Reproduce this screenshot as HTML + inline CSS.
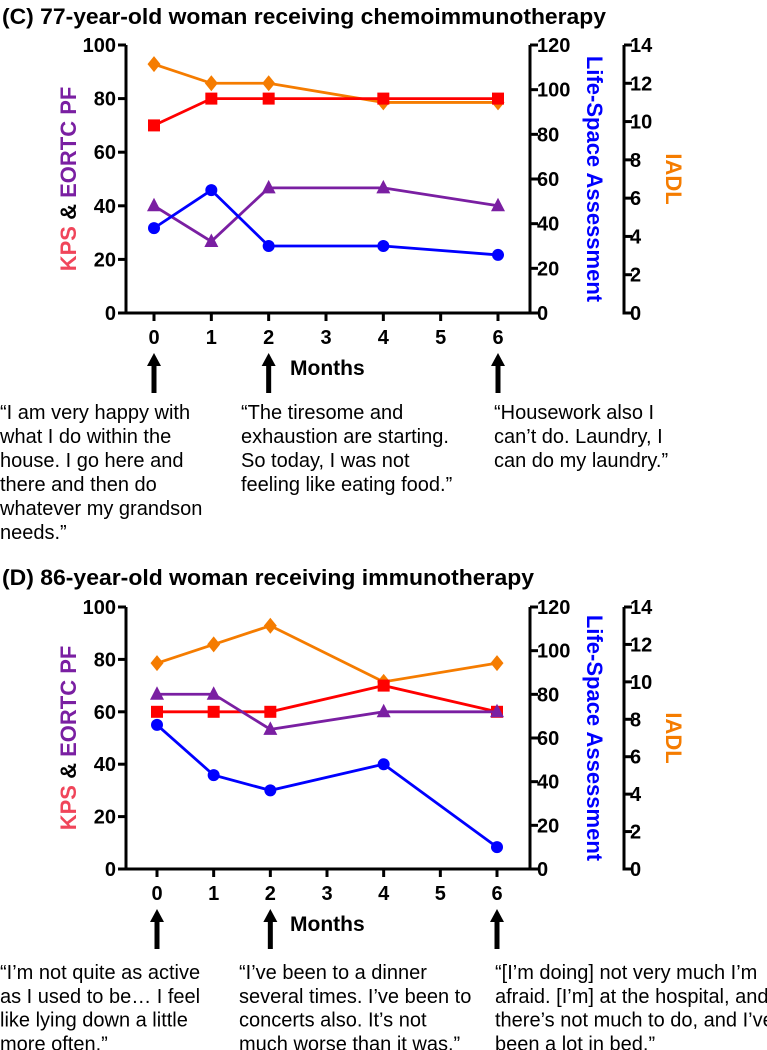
<!DOCTYPE html>
<html><head><meta charset="utf-8"><style>
html,body{margin:0;padding:0;background:#fff;}
svg{display:block;font-family:"Liberation Sans",Arial,sans-serif;}
</style></head><body>
<svg id="fig" width="767" height="1050" viewBox="0 0 767 1050">
<text x="2" y="24" font-size="22" font-weight="bold" textLength="604" lengthAdjust="spacingAndGlyphs">(C) 77-year-old woman receiving chemoimmunotherapy</text>
<text x="2" y="585" font-size="22" font-weight="bold" textLength="532" lengthAdjust="spacingAndGlyphs">(D) 86-year-old woman receiving immunotherapy</text>
<g font-size="20" fill="#000">
<text x="0" y="419"><tspan x="0">“I am very happy with</tspan><tspan x="0" dy="24">what I do within the</tspan><tspan x="0" dy="24">house. I go here and</tspan><tspan x="0" dy="24">there and then do</tspan><tspan x="0" dy="24">whatever my grandson</tspan><tspan x="0" dy="24">needs.”</tspan></text>
<text x="241" y="419"><tspan x="241">“The tiresome and</tspan><tspan x="241" dy="24">exhaustion are starting.</tspan><tspan x="241" dy="24">So today, I was not</tspan><tspan x="241" dy="24">feeling like eating food.”</tspan></text>
<text x="494" y="419"><tspan x="494">“Housework also I</tspan><tspan x="494" dy="24">can’t do. Laundry, I</tspan><tspan x="494" dy="24">can do my laundry.”</tspan></text>
</g>
<g font-size="20" fill="#000">
<text x="0" y="979"><tspan x="0">“I’m not quite as active</tspan><tspan x="0" dy="23.8">as I used to be… I feel</tspan><tspan x="0" dy="23.8">like lying down a little</tspan><tspan x="0" dy="23.8">more often.”</tspan></text>
<text x="239" y="979"><tspan x="239">“I’ve been to a dinner</tspan><tspan x="239" dy="23.8">several times. I’ve been to</tspan><tspan x="239" dy="23.8">concerts also. It’s not</tspan><tspan x="239" dy="23.8">much worse than it was.”</tspan></text>
<text x="495" y="979"><tspan x="495">“[I’m doing] not very much I’m</tspan><tspan x="495" dy="23.8">afraid. [I’m] at the hospital, and</tspan><tspan x="495" dy="23.8">there’s not much to do, and I’ve</tspan><tspan x="495" dy="23.8">been a lot in bed.”</tspan></text>
</g>
</svg>
<script>
const months = [0, 1, 2, 4, 6];
const xTicks = [0, 1, 2, 3, 4, 5, 6];
const leftTicks = [0, 20, 40, 60, 80, 100];
const lsTicks = [0, 20, 40, 60, 80, 100, 120];
const iadlTicks = [0, 2, 4, 6, 8, 10, 12, 14];
const arrowMonths = [0, 2, 6];
const kpsC = [70, 80, 80, 80, 80];
const pfC = [40, 26.7, 46.7, 46.7, 40];
const lsC = [38, 55, 30, 30, 26];
const iadlC = [13, 12, 12, 11, 11];
const kpsD = [60, 60, 60, 70, 60];
const pfD = [66.7, 66.7, 53.3, 60, 60];
const lsD = [66, 43, 36, 48, 10];
const iadlD = [11, 12, 13, 10, 11];

const NS = 'http://www.w3.org/2000/svg';
const svg = document.getElementById('fig');
function mk(tag, attrs, parent) {
  const e = document.createElementNS(NS, tag);
  for (const k in attrs) e.setAttribute(k, attrs[k]);
  (parent || svg).appendChild(e);
  return e;
}
const RED = '#ff0000', PURPLE = '#7a1fa2', BLUE = '#0000ff', ORANGE = '#f57c00';

function panel(p, top, bottom, x0m, x6m, kps, pf, ls, iadl) {
  const axL = 126, axR = 530, axI = 624;
  const yL = v => bottom - (v / 100) * (bottom - top);
  const yLS = v => bottom - (v / 120) * (bottom - top);
  const yI = v => bottom - (v / 14) * (bottom - top);
  const xM = m => x0m + (m / 6) * (x6m - x0m);
  const g = mk('g', {});
  
  
  const ax = {stroke: '#000', 'stroke-width': 3, fill: 'none'};
  const la = mk('line', Object.assign({x1: axL, y1: top, x2: axL, y2: bottom + 1.5}, ax), g);
  
  
  leftTicks.forEach(v => {
    mk('line', Object.assign({x1: axL - 8, y1: yL(v), x2: axL, y2: yL(v)}, ax), g);
    const t = mk('text', {x: 116, y: yL(v) + 7, 'font-size': 20, 'font-weight': 'bold', 'text-anchor': 'end'}, g);
    t.textContent = v;
    
    
  });
  const xa = mk('line', Object.assign({x1: axL - 1.5, y1: bottom, x2: axR + 3, y2: bottom}, ax), g);
  
  
  xTicks.forEach(m => {
    mk('line', Object.assign({x1: xM(m), y1: bottom, x2: xM(m), y2: bottom + 8}, ax), g);
    const t = mk('text', {x: xM(m), y: bottom + 31, 'font-size': 20, 'font-weight': 'bold', 'text-anchor': 'middle'}, g);
    t.textContent = m;
    
    
  });
  const ra = mk('line', Object.assign({x1: axR, y1: top, x2: axR, y2: bottom + 1.5}, ax), g);
  
  
  lsTicks.forEach(v => {
    mk('line', Object.assign({x1: axR, y1: yLS(v), x2: axR + 8, y2: yLS(v)}, ax), g);
    const t = mk('text', {x: 537, y: yLS(v) + 7, 'font-size': 20, 'font-weight': 'bold'}, g);
    t.textContent = v;
    
    
  });
  const ia = mk('line', Object.assign({x1: axI, y1: top, x2: axI, y2: bottom + 1.5}, ax), g);
  
  
  iadlTicks.forEach(v => {
    mk('line', Object.assign({x1: axI, y1: yI(v), x2: axI + 8, y2: yI(v)}, ax), g);
    const t = mk('text', {x: 630, y: yI(v) + 7, 'font-size': 20, 'font-weight': 'bold'}, g);
    t.textContent = v;
    
    
  });
  const mid = (top + bottom) / 2;
  const lt = mk('text', {x: 0, y: 0, 'font-size': 22, 'font-weight': 'bold', 'text-anchor': 'middle', transform: `translate(76,${mid}) rotate(-90)`}, g);
  lt.innerHTML = '<tspan fill="#f0455a">KPS</tspan><tspan fill="#000"> &amp; </tspan><tspan fill="' + PURPLE + '">EORTC PF</tspan>';
  
  
  const rt = mk('text', {x: 0, y: 0, 'font-size': 22, 'font-weight': 'bold', 'text-anchor': 'middle', fill: BLUE, transform: `translate(587,${mid}) rotate(90)`}, g);
  rt.textContent = 'Life-Space Assessment';
  
  
  const it = mk('text', {x: 0, y: 0, 'font-size': 22, 'font-weight': 'bold', 'text-anchor': 'middle', fill: ORANGE, transform: `translate(666,${mid}) rotate(90)`}, g);
  it.textContent = 'IADL';
  
  
  function series(vals, yf, color, marker, name) {
    const pts = vals.map((v, i) => [xM(months[i]), yf(v)]);
    const pl = mk('polyline', {points: pts.map(q => q.join(',')).join(' '), fill: 'none', stroke: color, 'stroke-width': 2.8}, g);
    
    
    pts.forEach(([x, y]) => {
      let m;
      if (marker === 'square') m = mk('rect', {x: x - 6, y: y - 6, width: 12, height: 12, fill: color}, g);
      else if (marker === 'circle') m = mk('circle', {cx: x, cy: y, r: 6, fill: color}, g);
      else if (marker === 'triangle') m = mk('polygon', {points: `${x},${y - 8} ${x + 7},${y + 5.5} ${x - 7},${y + 5.5}`, fill: color}, g);
      else m = mk('polygon', {points: `${x},${y - 8} ${x + 6.5},${y} ${x},${y + 8} ${x - 6.5},${y}`, fill: color}, g);
      
      
    });
  }
  series(iadl, yI, ORANGE, 'diamond', 'iadl');
  series(kps, yL, RED, 'square', 'kps');
  series(pf, yL, PURPLE, 'triangle', 'eortc-pf');
  series(ls, yLS, BLUE, 'circle', 'life-space');
  arrowMonths.forEach(m => {
    const x = xM(m), a0 = bottom + 40, a1 = bottom + 80;
    const ar = mk('g', {}, g);
    
    
    mk('rect', {x: x - 2.5, y: a0 + 10, width: 5, height: a1 - a0 - 10, fill: '#000'}, ar);
    mk('polygon', {points: `${x},${a0} ${x + 7},${a0 + 13} ${x - 7},${a0 + 13}`, fill: '#000'}, ar);
  });
  const mo = mk('text', {x: 290, y: bottom + 62, 'font-size': 21, 'font-weight': 'bold'}, g);
  mo.textContent = 'Months';
  
  
}
panel('c', 45, 313, 154, 498, kpsC, pfC, lsC, iadlC);
panel('d', 607, 869, 157, 497, kpsD, pfD, lsD, iadlD);
</script>
</body></html>
